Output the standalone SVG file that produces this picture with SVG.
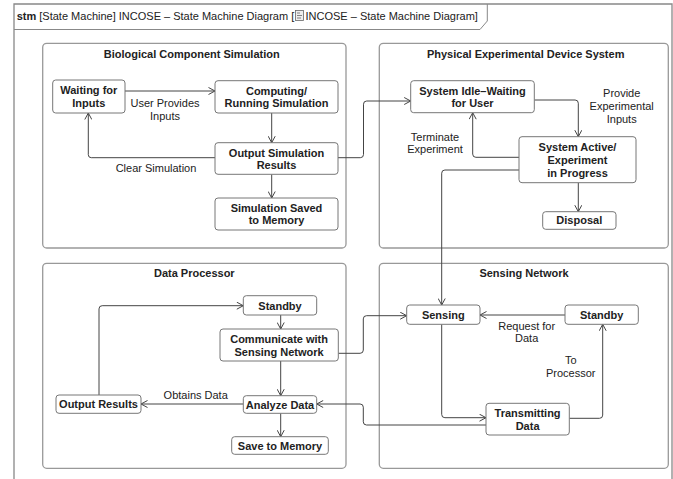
<svg xmlns="http://www.w3.org/2000/svg" width="673" height="479" viewBox="0 0 673 479">
<style>
text{font-family:"Liberation Sans Narrow","Liberation Sans",Arial,sans-serif;font-size:11px;fill:#222;text-anchor:middle}
.b{font-weight:bold}
.st{fill:#fff;stroke:#777;stroke-width:1}
.reg{fill:#fff;stroke:#999;stroke-width:1.3}
.c{fill:none;stroke:#444;stroke-width:1;marker-end:url(#a)}
</style>
<defs>
<marker id="a" viewBox="0 0 8 8" refX="7.5" refY="4" markerWidth="8" markerHeight="8" markerUnits="userSpaceOnUse" orient="auto">
<path d="M1,0.5 L7.5,4 L1,7.5" fill="none" stroke="#444" stroke-width="1"/>
</marker>
</defs>
<rect width="673" height="479" fill="#fff"/>
<g id="frame">
<path d="M14,482 V4 H672 V482" fill="none" stroke="#888" stroke-width="1.3"/>
<path d="M14,29.5 H480 L487.3,21 V4" fill="none" stroke="#888" stroke-width="1"/>
<text x="16.7" y="19.5" style="text-anchor:start"><tspan class="b">stm</tspan> [State Machine] INCOSE – State Machine Diagram [</text>
<g stroke="#666" stroke-width="0.8" fill="#eee"><rect x="295.5" y="10.5" width="8" height="10"/><path d="M297,13 h3 M297,15.5 h5 M297,18 h4" fill="none"/></g>
<text x="305.5" y="19.5" style="text-anchor:start">INCOSE – State Machine Diagram]</text>
</g>
<g id="bio">
<rect class="reg" x="42.7" y="43.3" width="303.3" height="204.7" rx="4"/>
<text class="b" x="191.7" y="58">Biological Component Simulation</text>
</g>
<g id="phys">
<rect class="reg" x="379.3" y="43.3" width="289" height="204.7" rx="4"/>
<text class="b" x="525.7" y="58">Physical Experimental Device System</text>
</g>
<g id="dp">
<rect class="reg" x="42.7" y="263.3" width="303.3" height="205" rx="4"/>
<text class="b" x="194.3" y="277.3">Data Processor</text>
</g>
<g id="sn">
<rect class="reg" x="379.3" y="263.3" width="289" height="205" rx="4"/>
<text class="b" x="524" y="277.3">Sensing Network</text>
</g>
<g id="connectors">
<path class="c" d="M125,91 H215"/>
<path class="c" d="M271.7,113 V142.7"/>
<path class="c" d="M271.7,174.3 V198"/>
<path class="c" d="M215,157.7 H91.3 Q88.3,157.7 88.3,154.7 V113"/>
<path class="c" d="M338,157.7 H360.3 Q363.5,157.7 363.5,154.5 V104.2 Q363.5,101 366.7,101 H410.7"/>
<path class="c" d="M534.3,100 H575.1 Q578.3,100 578.3,103.2 V136.7"/>
<path class="c" d="M519,157.3 H475.9 Q472.7,157.3 472.7,154.1 V112.7"/>
<path class="c" d="M578.3,182.7 V211.7"/>
<path class="c" d="M519,170 H444.9 Q441.7,170 441.7,173.2 V305"/>
<path class="c" d="M280.7,315 V329"/>
<path class="c" d="M280.7,361 V395.7"/>
<path class="c" d="M280.7,413.3 V436.7"/>
<path class="c" d="M243.3,404 H141"/>
<path class="c" d="M99,395 V308.9 Q99,305.7 102.2,305.7 H243.3"/>
<path class="c" d="M338.3,353.3 H360.1 Q363.3,353.3 363.3,350.1 V318.9 Q363.3,315.7 366.5,315.7 H406.7"/>
<path class="c" d="M486,425 H366.5 Q363.3,425 363.3,421.8 V407.2 Q363.3,404 360.1,404 H316.7"/>
<path class="c" d="M565,315 H480"/>
<path class="c" d="M441.7,324.3 V414.5 Q441.7,417.7 444.9,417.7 H486"/>
<path class="c" d="M569.3,418.3 H599.5 Q602.7,418.3 602.7,415.1 V324.3"/>
<text x="165" y="107">User Provides</text>
<text x="165" y="119.5">Inputs</text>
<text x="156" y="172">Clear Simulation</text>
<text x="621.7" y="97">Provide</text>
<text x="621.7" y="110">Experimental</text>
<text x="621.7" y="123">Inputs</text>
<text x="435" y="140.5">Terminate</text>
<text x="435" y="153">Experiment</text>
<text x="195.7" y="399">Obtains Data</text>
<text x="526.7" y="329.5">Request for</text>
<text x="526.7" y="342">Data</text>
<text x="570.7" y="364">To</text>
<text x="570.7" y="377">Processor</text>
</g>
<g id="waiting">
<rect class="st" x="52.7" y="80" width="72.3" height="33" rx="3"/>
<text class="b" x="88.8" y="94.4">Waiting for</text>
<text class="b" x="88.8" y="106.7">Inputs</text>
</g>
<g id="computing">
<rect class="st" x="215" y="80.7" width="123" height="32.3" rx="3"/>
<text class="b" x="276.5" y="94.7">Computing/</text>
<text class="b" x="276.5" y="107">Running Simulation</text>
</g>
<g id="output">
<rect class="st" x="215" y="142.7" width="123" height="31.6" rx="3"/>
<text class="b" x="276.5" y="156.5">Output Simulation</text>
<text class="b" x="276.5" y="168.8">Results</text>
</g>
<g id="saved">
<rect class="st" x="215" y="198" width="123" height="32" rx="3"/>
<text class="b" x="276.5" y="212">Simulation Saved</text>
<text class="b" x="276.5" y="224.3">to Memory</text>
</g>
<g id="idle">
<rect class="st" x="410.7" y="80.7" width="123.6" height="32" rx="3"/>
<text class="b" x="472.5" y="94.6">System Idle–Waiting</text>
<text class="b" x="472.5" y="106.7">for User</text>
</g>
<g id="active">
<rect class="st" x="519" y="136.7" width="117" height="46" rx="3"/>
<text class="b" x="577.5" y="151.3">System Active/</text>
<text class="b" x="577.5" y="164">Experiment</text>
<text class="b" x="577.5" y="176.7">in Progress</text>
</g>
<g id="disposal">
<rect class="st" x="542.7" y="211.7" width="73.3" height="17.6" rx="3"/>
<text class="b" x="579.3" y="224.3">Disposal</text>
</g>
<g id="dp-standby">
<rect class="st" x="243.3" y="295.7" width="73.4" height="19.3" rx="3"/>
<text class="b" x="280" y="309.5">Standby</text>
</g>
<g id="communicate">
<rect class="st" x="220" y="329" width="118.3" height="32" rx="3"/>
<text class="b" x="279.1" y="343">Communicate with</text>
<text class="b" x="279.1" y="355.5">Sensing Network</text>
</g>
<g id="analyze">
<rect class="st" x="243.3" y="395.7" width="73.4" height="17.6" rx="3"/>
<text class="b" x="280" y="408.8">Analyze Data</text>
</g>
<g id="output-results">
<rect class="st" x="56" y="395" width="85" height="18.3" rx="3"/>
<text class="b" x="98.5" y="408.3">Output Results</text>
</g>
<g id="save-memory">
<rect class="st" x="231.7" y="436.7" width="96.6" height="17.6" rx="3"/>
<text class="b" x="280" y="449.8">Save to Memory</text>
</g>
<g id="sensing">
<rect class="st" x="406.7" y="305" width="73.3" height="19.3" rx="3"/>
<text class="b" x="443.3" y="318.8">Sensing</text>
</g>
<g id="sn-standby">
<rect class="st" x="565" y="305" width="73.3" height="19.3" rx="3"/>
<text class="b" x="601.6" y="318.8">Standby</text>
</g>
<g id="transmitting">
<rect class="st" x="486" y="403.3" width="83.3" height="31.7" rx="3"/>
<text class="b" x="527.6" y="417.2">Transmitting</text>
<text class="b" x="527.6" y="429.5">Data</text>
</g>
</svg>
